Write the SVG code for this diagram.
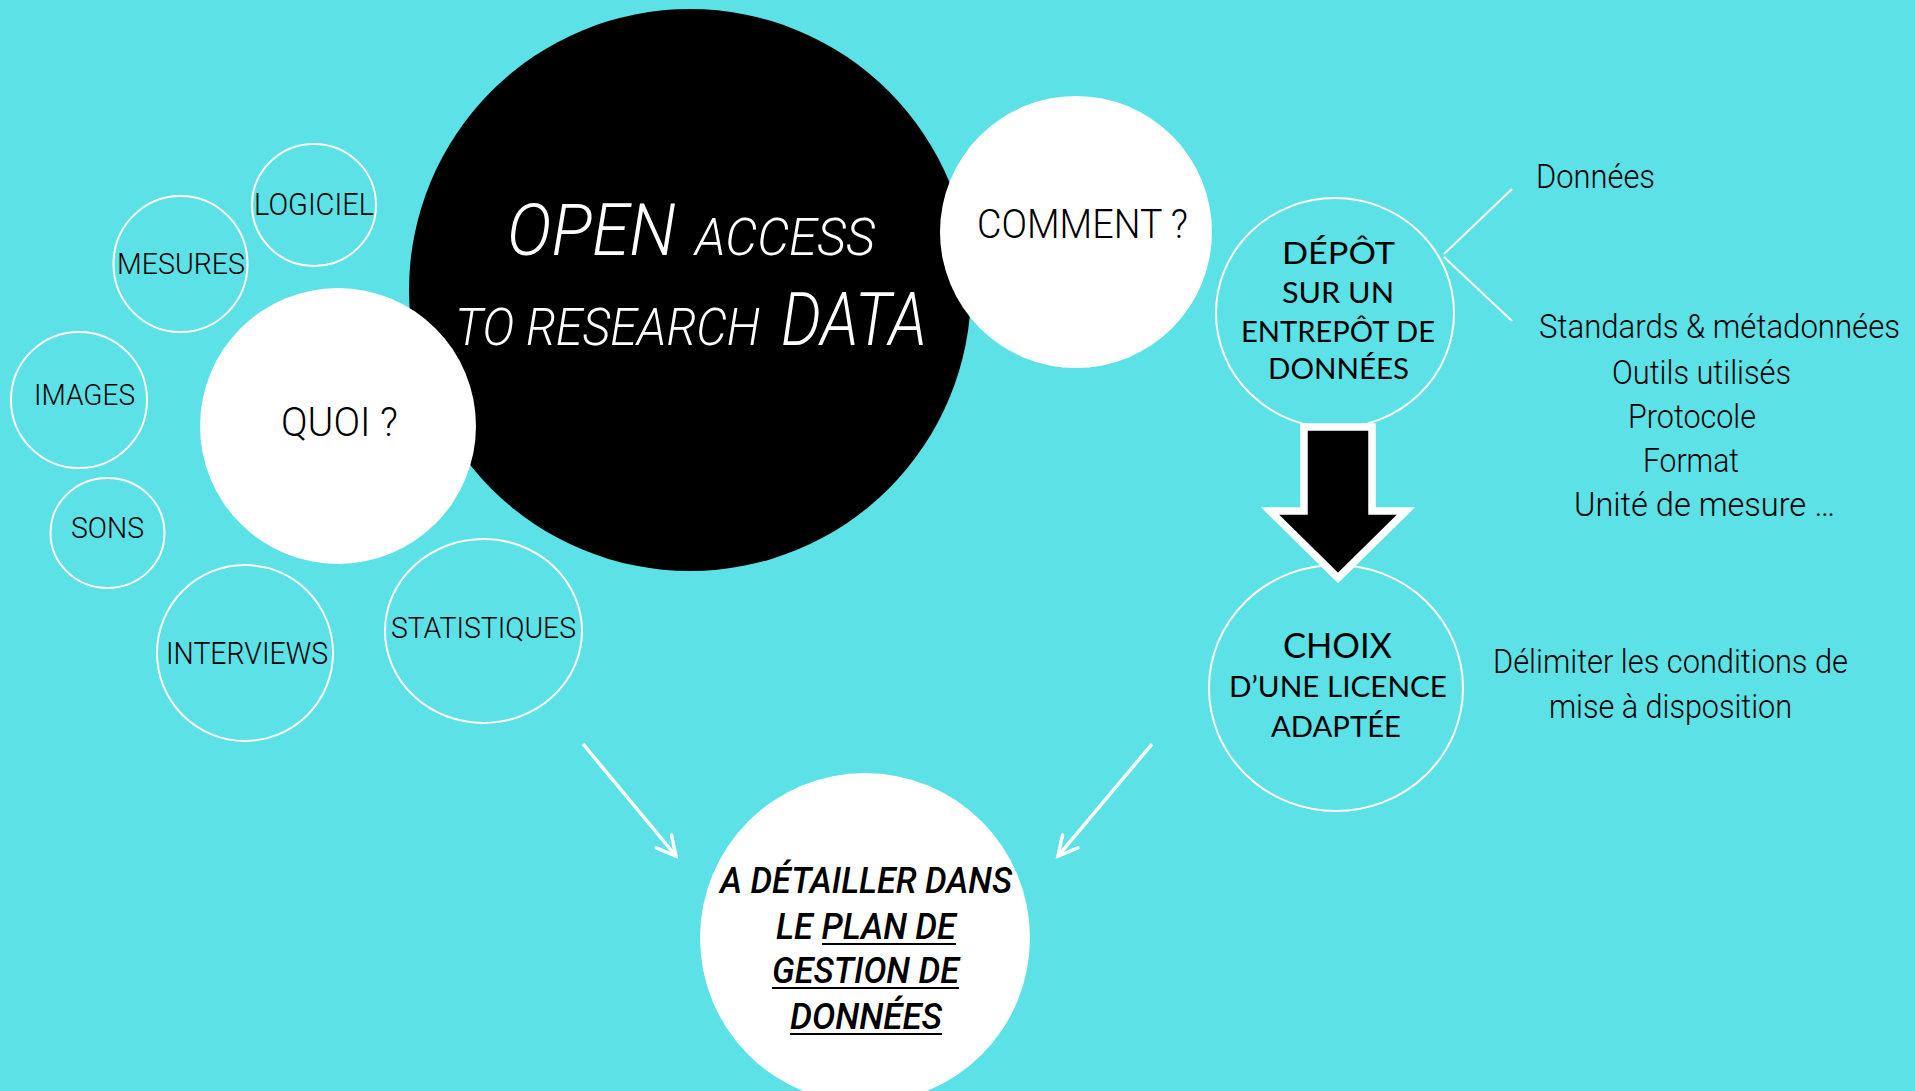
<svg xmlns="http://www.w3.org/2000/svg" width="1915" height="1091" viewBox="0 0 1915 1091">
<defs>
<style>
.bg{fill:#5ce1e6}
.ring{fill:none;stroke:#ffffff;stroke-width:2}
.disc{fill:#ffffff}
.n{font-family:Roboto,"Liberation Sans",Arial,sans-serif;font-weight:300;fill:#000}
.h{font-family:Lato,"Open Sans","Noto Sans",sans-serif;fill:#000}
.w{font-family:Roboto,"Liberation Sans",Arial,sans-serif;font-weight:300;fill:#fff;font-style:italic}
.b{font-family:Roboto,"Liberation Sans",Arial,sans-serif;font-weight:500;fill:#000;font-style:italic}
.c{text-anchor:middle}
.ul{stroke:#000;stroke-width:2.2}
.conn{stroke:#fff;stroke-width:3.5;fill:none}
.thin{stroke:#fff;stroke-width:2;fill:none}
</style>
<marker id="vhead" markerUnits="userSpaceOnUse" markerWidth="40" markerHeight="40" refX="0" refY="0" orient="auto" viewBox="-30 -20 40 40" overflow="visible">
<path d="M-19,-10 L0,0 L-19,10" fill="none" stroke="#fff" stroke-width="3.5" stroke-linecap="round" stroke-linejoin="miter"/>
</marker>
</defs>
<rect class="bg" x="0" y="0" width="1915" height="1091"/>

<g id="main">
<circle cx="690" cy="290" r="281" fill="#000"/>
<text class="w" x="507" y="255" font-size="72" textLength="169" lengthAdjust="spacingAndGlyphs">OPEN</text>
<text class="w" x="695" y="255" font-size="51" textLength="180" lengthAdjust="spacingAndGlyphs">ACCESS</text>
<text class="w" x="455" y="345" font-size="52" textLength="305" lengthAdjust="spacingAndGlyphs">TO RESEARCH</text>
<text class="w" x="781" y="345" font-size="74" textLength="146" lengthAdjust="spacingAndGlyphs">DATA</text>
</g>

<g id="comment">
<circle class="disc" cx="1076" cy="232" r="136"/>
<text class="n c" x="1082.5" y="238" font-size="40" textLength="211" lengthAdjust="spacingAndGlyphs">COMMENT ?</text>
</g>

<g id="quoi">
<circle class="disc" cx="338" cy="426" r="138"/>
<text class="n c" x="339.5" y="436" font-size="40" textLength="117" lengthAdjust="spacingAndGlyphs">QUOI ?</text>
</g>

<g id="logiciel">
<ellipse class="ring" cx="314" cy="205" rx="62" ry="61"/>
<text class="n c" x="314" y="215" font-size="31" textLength="120" lengthAdjust="spacingAndGlyphs">LOGICIEL</text>
</g>
<g id="mesures">
<ellipse class="ring" cx="180.5" cy="264" rx="67" ry="68"/>
<text class="n c" x="181" y="274" font-size="30" textLength="128" lengthAdjust="spacingAndGlyphs">MESURES</text>
</g>
<g id="images">
<ellipse class="ring" cx="79" cy="400" rx="68" ry="68"/>
<text class="n c" x="84.5" y="405" font-size="30" textLength="101" lengthAdjust="spacingAndGlyphs">IMAGES</text>
</g>
<g id="sons">
<ellipse class="ring" cx="107.5" cy="533" rx="57" ry="55"/>
<text class="n c" x="107.5" y="538" font-size="30" textLength="73" lengthAdjust="spacingAndGlyphs">SONS</text>
</g>
<g id="interviews">
<ellipse class="ring" cx="245" cy="653" rx="88" ry="88"/>
<text class="n c" x="247" y="664" font-size="31" textLength="162" lengthAdjust="spacingAndGlyphs">INTERVIEWS</text>
</g>
<g id="statistiques">
<ellipse class="ring" cx="483.5" cy="631" rx="98.5" ry="92"/>
<text class="n c" x="483.5" y="638" font-size="30" textLength="185" lengthAdjust="spacingAndGlyphs">STATISTIQUES</text>
</g>

<g id="depot">
<ellipse class="ring" cx="1335" cy="313" rx="119" ry="115"/>
<text class="h c" x="1338.5" y="264" font-size="30" textLength="113" lengthAdjust="spacingAndGlyphs">DÉPÔT</text>
<text class="h c" x="1338" y="303" font-size="28" textLength="112" lengthAdjust="spacingAndGlyphs">SUR UN</text>
<text class="h c" x="1338" y="342" font-size="28" textLength="194" lengthAdjust="spacingAndGlyphs">ENTREPÔT DE</text>
<text class="h c" x="1338.5" y="379" font-size="28" textLength="141" lengthAdjust="spacingAndGlyphs">DONNÉES</text>
</g>

<g id="choix">
<ellipse class="ring" cx="1336" cy="688" rx="127" ry="123"/>
<text class="h c" x="1337.5" y="658" font-size="34" textLength="109" lengthAdjust="spacingAndGlyphs">CHOIX</text>
<text class="h c" x="1338" y="697" font-size="28" textLength="218" lengthAdjust="spacingAndGlyphs">D’UNE LICENCE</text>
<text class="h c" x="1336" y="737" font-size="28" textLength="130" lengthAdjust="spacingAndGlyphs">ADAPTÉE</text>
</g>

<g id="details-depot">
<text class="n" x="1536" y="188" font-size="34" textLength="119" lengthAdjust="spacingAndGlyphs">Données</text>
<text class="n" x="1539" y="338" font-size="33" textLength="361" lengthAdjust="spacingAndGlyphs">Standards &amp; métadonnées</text>
<text class="n c" x="1701.5" y="384" font-size="33" textLength="179" lengthAdjust="spacingAndGlyphs">Outils utilisés</text>
<text class="n c" x="1692" y="428" font-size="33" textLength="128" lengthAdjust="spacingAndGlyphs">Protocole</text>
<text class="n c" x="1691" y="472" font-size="33" textLength="96" lengthAdjust="spacingAndGlyphs">Format</text>
<text class="n c" x="1704.5" y="516" font-size="33" textLength="261" lengthAdjust="spacingAndGlyphs">Unité de mesure …</text>
</g>

<g id="details-choix">
<text class="n c" x="1670.5" y="673" font-size="34" textLength="355" lengthAdjust="spacingAndGlyphs">Délimiter les conditions de</text>
<text class="n c" x="1670.5" y="718" font-size="34" textLength="243" lengthAdjust="spacingAndGlyphs">mise à disposition</text>
</g>

<g id="plan">
<circle class="disc" cx="865" cy="938" r="165"/>
<text class="b c" x="866" y="893" font-size="36" textLength="292" lengthAdjust="spacingAndGlyphs">A DÉTAILLER DANS</text>
<text class="b" x="776" y="939" font-size="36" textLength="180" lengthAdjust="spacingAndGlyphs">LE PLAN DE</text>
<text class="b c" x="865.5" y="983" font-size="36" textLength="187" lengthAdjust="spacingAndGlyphs">GESTION DE</text>
<text class="b c" x="866" y="1029" font-size="36" textLength="152" lengthAdjust="spacingAndGlyphs">DONNÉES</text>
<line class="ul" x1="822" y1="944" x2="956" y2="944"/>
<line class="ul" x1="772" y1="988" x2="959" y2="988"/>
<line class="ul" x1="790" y1="1034" x2="942" y2="1034"/>
</g>

<g id="connectors">
<line class="thin" x1="1444" y1="254" x2="1512" y2="189"/>
<line class="thin" x1="1444" y1="257" x2="1512" y2="321"/>
<line class="conn" x1="583" y1="744" x2="676" y2="856" marker-end="url(#vhead)"/>
<line class="conn" x1="1152" y1="744" x2="1058" y2="856" marker-end="url(#vhead)"/>
<polygon points="1304,427 1372,427 1372,511 1406,511 1338,578 1270,511 1304,511" fill="#000" stroke="#fff" stroke-width="7.5" stroke-linejoin="miter"/>
</g>
</svg>
